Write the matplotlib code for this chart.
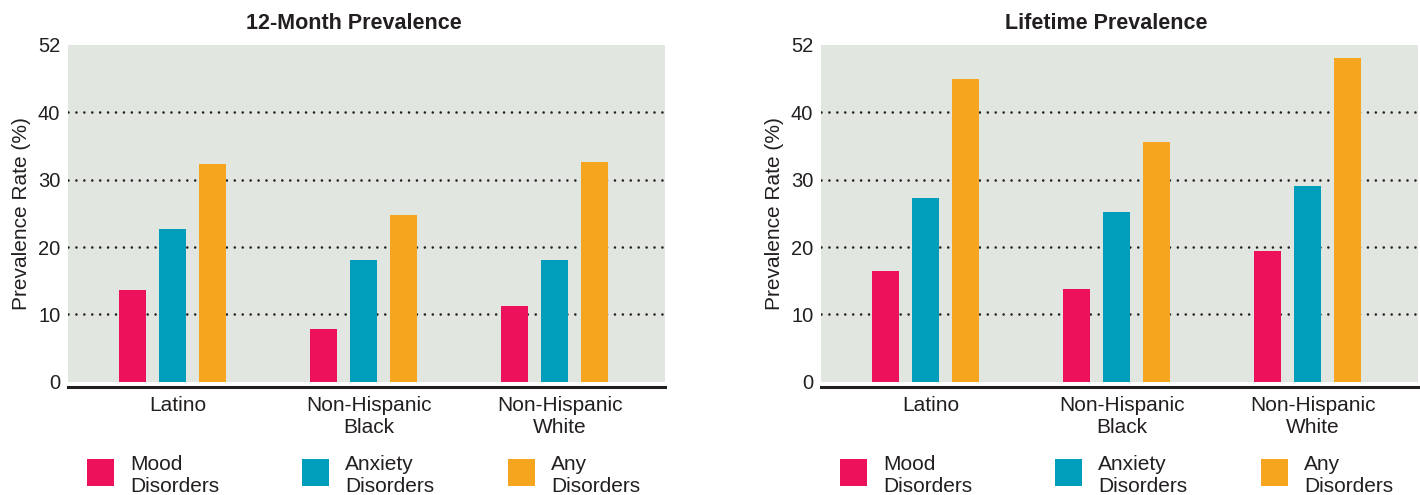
import matplotlib
matplotlib.use("Agg")
import matplotlib.pyplot as plt
import matplotlib.transforms as mtransforms
from matplotlib.patches import Rectangle
import numpy as np

plt.rcParams['font.family'] = ['Liberation Sans', 'DejaVu Sans']

groups = ["Latino", "Non-Hispanic\nBlack", "Non-Hispanic\nWhite"]
series_names = ["Mood\nDisorders", "Anxiety\nDisorders", "Any\nDisorders"]

# 12-month prevalence (%)
twelve_mood = [13.6, 7.8, 11.2]
twelve_anxiety = [22.7, 18.0, 18.0]
twelve_any = [32.4, 24.8, 32.7]

# lifetime prevalence (%)
life_mood = [16.5, 13.8, 19.4]
life_anxiety = [27.3, 25.2, 29.1]
life_any = [45.0, 35.6, 48.0]

ytick_vals = [0, 10, 20, 30, 40, 50]
ytick_labels = ["0", "10", "20", "30", "40", "52"]
grid_vals = [10, 20, 30, 40]

colors = ["#ED115B", "#009EBB", "#F6A51E"]
bg = "#E1E7E0"
ink = "#231F20"

W, H = 1420, 495
fig = plt.figure(figsize=(W / 100, H / 100), dpi=100)

ax_w = 597 / W
ax_bottom = 1 - 386.5 / H
ax_h = (386.5 - 45) / H
axes = [fig.add_axes([68 / W, ax_bottom, ax_w, ax_h]),
        fig.add_axes([821 / W, ax_bottom, ax_w, ax_h])]

panels = [
    ("12-Month Prevalence", [twelve_mood, twelve_anxiety, twelve_any], 354),
    ("Lifetime Prevalence", [life_mood, life_anxiety, life_any], 1106.7),
]

x = np.arange(len(groups))
offsets = [-0.2094, 0.0, 0.2094]
bar_w = 0.1414

for ax, (title, series, title_x) in zip(axes, panels):
    ax.set_facecolor("white")
    ax.axhspan(0, 50, color=bg, zorder=0, lw=0)
    for g in grid_vals:
        ax.axhline(g, color=ink, lw=1.9, linestyle=(0, (0.001, 3.0)),
                   dash_capstyle="round", zorder=1)
    for vals, off, c in zip(series, offsets, colors):
        ax.bar(x + off, vals, width=bar_w, color=c, zorder=2, lw=0)

    ax.set_xlim(-0.547, 2.579)
    ax.set_ylim(-0.71, 50)
    for s in ("top", "left", "right"):
        ax.spines[s].set_visible(False)
    ax.spines["bottom"].set_linewidth(2.2)
    ax.spines["bottom"].set_color(ink)

    ax.set_yticks(ytick_vals)
    ax.set_yticklabels(ytick_labels)
    ax.tick_params(axis="y", length=0, pad=5.5, labelsize=14.5, labelcolor=ink)
    ax.set_xticks(x)
    ax.set_xticklabels(groups, linespacing=1.17)
    ax.tick_params(axis="x", length=0, pad=7, labelsize=15, labelcolor=ink)
    shift = mtransforms.ScaledTranslation(0.055, 0, fig.dpi_scale_trans)
    for lab in ax.get_xticklabels():
        lab.set_transform(lab.get_transform() + shift)

    ax.set_ylabel("Prevalence Rate (%)", fontsize=15, color=ink)
    ax.yaxis.set_label_coords(-0.062, 0.505)

    fig.text(title_x / W, 1 - 29.3 / H, title, ha="center", va="baseline",
             fontsize=15.5, fontweight="bold", color=ink)

    # legend row below the category labels
    sq_x = [19, 234, 440]
    for sx, name, c in zip(sq_x, series_names, colors):
        ax.add_patch(Rectangle((sx / 597, -99.5 / 341.5), 27 / 597, 27 / 341.5,
                               transform=ax.transAxes, color=c, clip_on=False, lw=0))
        for line, base in zip(name.split("\n"), [470.5, 492]):
            ax.text((sx + 43) / 597, (386.5 - base) / 341.5, line,
                    transform=ax.transAxes, ha="left", va="baseline",
                    fontsize=15, color=ink)

fig.savefig("out.png", dpi=100)
